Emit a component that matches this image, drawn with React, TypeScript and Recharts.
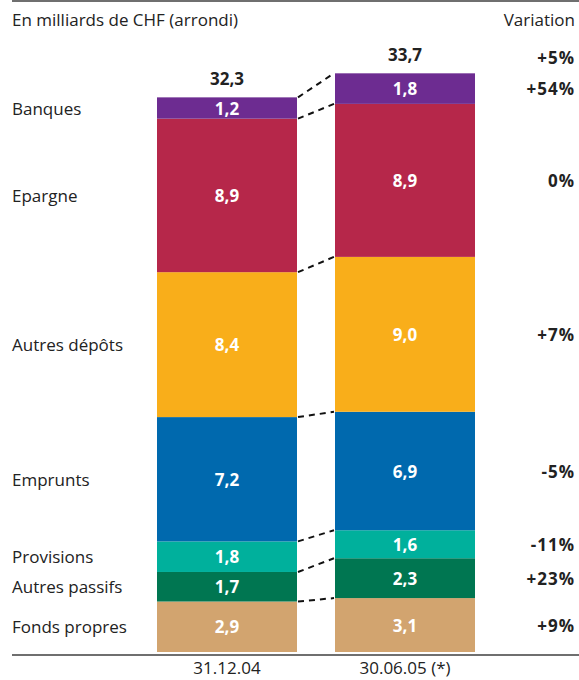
import { Bar, BarChart, XAxis, YAxis } from 'recharts';

const categories = ['31.12.04', '30.06.05 (*)'];
// stacking order: bottom to top
const seriesNames = ['Fonds propres', 'Autres passifs', 'Provisions', 'Emprunts', 'Autres dépôts', 'Epargne', 'Banques'];
const values2004 = [2.94, 1.72, 1.78, 7.24, 8.44, 8.94, 1.24];
const values2005 = [3.14, 2.32, 1.63, 6.9, 9.02, 8.91, 1.78];
const variations = ['+9%', '+23%', '-11%', '-5%', '+7%', '0%', '+54%'];
const totalVariation = '+5%';
const colors = ['#D2A46F', '#007651', '#00B09C', '#0069AE', '#F9AE1A', '#B6274A', '#6D2C91'];

const W = 579;
const H = 680;
const M = { top: 51, right: 85, bottom: 0, left: 138 };
const BAR = 140;
const GAP = (W - M.left - M.right) / categories.length - BAR;
const FONT = "'Open Sans', sans-serif";
const FS = 17;

const seriesValues = [values2004, values2005];
const data = categories.map((cat, i) => {
  const row: Record<string, string | number> = { cat };
  seriesNames.forEach((_, j) => {
    row['s' + j] = seriesValues[i][j];
  });
  return row;
});

const fmt = (v: number) => v.toFixed(1).replace('.', ',');
const cum = (arr: number[], n: number) => arr.slice(0, n).reduce((a, b) => a + b, 0);

function Segment(props: any) {
  const { x, y, width, height, index, sIdx } = props;
  const vals = seriesValues[index];
  const v = vals[sIdx];
  const k = height / v;
  const baseline = y + height + k * cum(vals, sIdx);
  const cx = x + width / 2;
  const cy = y + height / 2;
  const isTop = sIdx === seriesNames.length - 1;
  const nextTop = baseline - k * cum(seriesValues[1], sIdx + 1);

  return (
    <g>
      <rect x={x} y={y} width={width} height={height} fill={colors[sIdx]} />
      <text x={cx} y={cy} textAnchor="middle" dominantBaseline="central" fill="#fff"
        fontFamily={FONT} fontWeight={700} fontSize={FS}>
        {fmt(v)}
      </text>
      {index === 0 && (
        <>
          <line x1={x + width + 1} y1={y} x2={x + width + GAP - 1} y2={nextTop}
            stroke="#111" strokeWidth={2} strokeDasharray="6 5" />
          <text x={12} y={cy} dominantBaseline="central" fill="#222" fontFamily={FONT} fontSize={FS}>
            {seriesNames[sIdx]}
          </text>
        </>
      )}
      {index === 1 && (
        <text x={575} y={cy} textAnchor="end" dominantBaseline="central" fill="#222"
          fontFamily={FONT} fontWeight={700} fontSize={FS} letterSpacing={1}>
          {variations[sIdx]}
        </text>
      )}
      {isTop && (
        <text x={cx} y={y - 19} textAnchor="middle" dominantBaseline="central" fill="#222"
          fontFamily={FONT} fontWeight={700} fontSize={FS}>
          {fmt(cum(vals, vals.length))}
        </text>
      )}
      {isTop && index === 1 && (
        <text x={575} y={y - 16} textAnchor="end" dominantBaseline="central" fill="#222"
          fontFamily={FONT} fontWeight={700} fontSize={FS} letterSpacing={1}>
          {totalVariation}
        </text>
      )}
    </g>
  );
}

function DateTick(props: any) {
  const { x, y, payload } = props;
  return (
    <text x={x} y={y + 22} textAnchor="middle" fill="#222" fontFamily={FONT} fontSize={FS}>
      {payload.value}
    </text>
  );
}

export default function App() {
  return (
    <div style={{ position: 'absolute', left: 0, top: 0, width: W, height: H, background: '#fff', fontFamily: FONT }}>
      <div style={{ position: 'absolute', left: 12, top: 0, right: 0, height: 2, background: '#6f6f6f' }} />
      <div style={{ position: 'absolute', left: 12, top: 8, fontSize: FS, color: '#222' }}>
        En milliards de CHF (arrondi)
      </div>
      <div style={{ position: 'absolute', right: 4, top: 8, fontSize: FS, color: '#222' }}>Variation</div>
      <BarChart width={W} height={H} data={data} margin={M} barSize={BAR}>
        <XAxis dataKey="cat" height={28} axisLine={false} tickLine={false} tickSize={0} tickMargin={0}
          tick={<DateTick />} />
        <YAxis hide domain={[0, 35]} />
        {seriesNames.map((name, j) => (
          <Bar key={name} dataKey={'s' + j} name={name} stackId="a" isAnimationActive={false}
            shape={(p: any) => <Segment {...p} sIdx={j} />} />
        ))}
      </BarChart>
      <div style={{ position: 'absolute', left: 12, top: 654, right: 0, height: 2, background: '#6f6f6f' }} />
    </div>
  );
}
